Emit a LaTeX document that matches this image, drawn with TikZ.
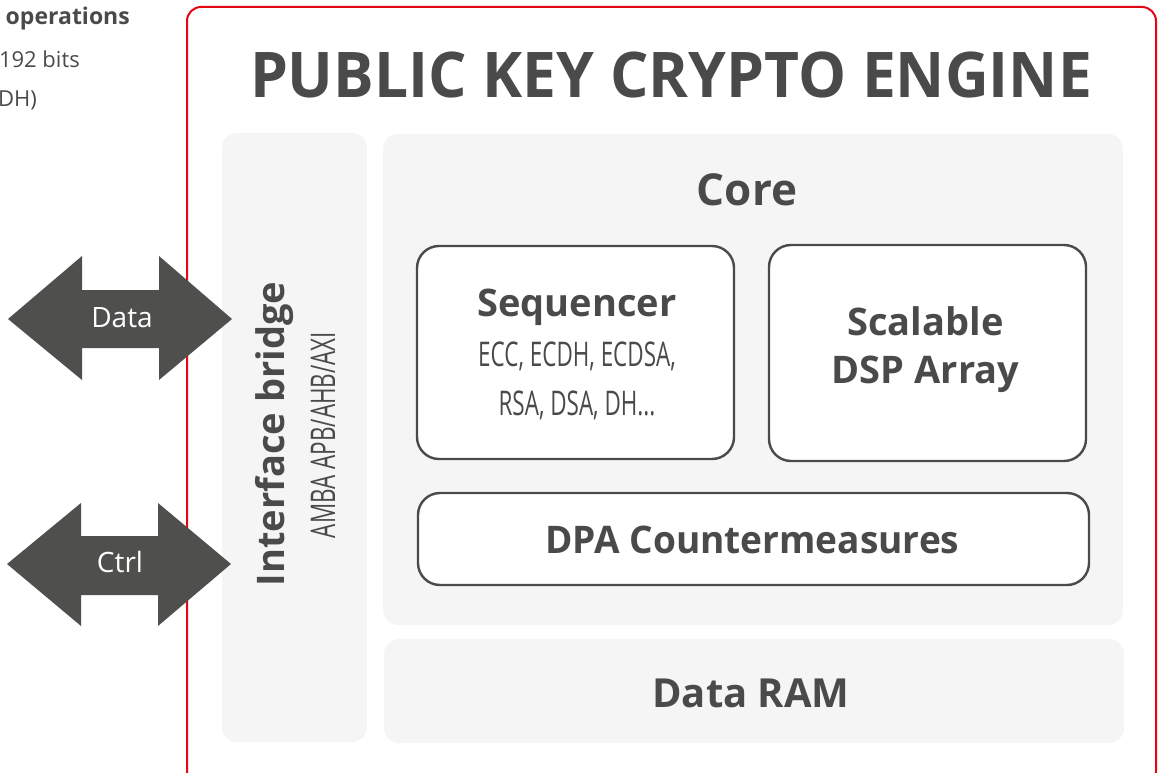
\documentclass[tikz,border=0pt]{standalone}
\usepackage{fontspec}
\usepackage{graphicx}
\setmainfont{Open Sans}
\definecolor{txt}{HTML}{4A4A4A}
\definecolor{arr}{HTML}{4F4F4E}
\definecolor{panelc}{HTML}{F5F5F5}
\definecolor{redc}{HTML}{E30613}
\newcommand{\fsz}[1]{\fontsize{#1}{#1}\selectfont}
\newcommand{\cnd}[1]{\scalebox{0.66}[1]{#1}}
\begin{document}
\begin{tikzpicture}[x=1pt,y=-1pt,
  panel/.style={fill=panelc, draw=none, rounded corners=15pt, inner sep=0pt},
  blockbox/.style={fill=white, draw=txt, line width=2.4pt, rounded corners=22pt, inner sep=0pt},
  lbl/.style={text=txt, inner sep=0pt, anchor=base},
  arrtxt/.style={text=white, inner sep=0pt, anchor=base, font=\fsz{28}}]
\useasboundingbox (0,0) rectangle (1162,773);
\clip (0,0) rectangle (1162,773);
% left cropped text
\node[lbl, anchor=base east, font=\bfseries\fsz{23}] (t1) at (130,25) {operations};
\node[lbl, anchor=base east, font=\fsz{22}] (t2) at (80,68) {192 bits};
\node[lbl, anchor=base east, font=\fsz{22}] (t3) at (37,107) {DH)};
% red frame
\draw[redc, line width=2pt, rounded corners=14pt] (187,7) rectangle (1156,785);
\node[lbl, font=\bfseries\fsz{63}] (title) at (671,98) {\scalebox{0.96}[1]{PUBLIC KEY CRYPTO ENGINE}};
% panels
\node[panel, minimum width=145pt, minimum height=609pt] (bridge) at (294.5,437.5) {};
\node[panel, minimum width=740pt, minimum height=491pt] (core) at (753,379.5) {};
\node[panel, minimum width=740pt, minimum height=104pt] (ram) at (754,691) {};
% inner boxes
\node[blockbox, minimum width=317pt, minimum height=213pt] (seq) at (575.5,352.5) {};
\node[blockbox, minimum width=317pt, minimum height=216pt] (dsp) at (927.5,353) {};
\node[blockbox, minimum width=671pt, minimum height=92pt] (dpa) at (753.5,539) {};
% texts
\node[lbl, font=\bfseries\fsz{44}] (coretxt) at (747,205) {Core};
\node[lbl, font=\bfseries\fsz{38}] (seqtxt) at (577,316) {Sequencer};
\node[lbl, font=\fsz{34}] (seq1) at (577,366) {\cnd{ECC, ECDH, ECDSA,}};
\node[lbl, font=\fsz{34}] (seq2) at (577,415) {\cnd{RSA, DSA, DH...}};
\node[lbl, font=\bfseries\fsz{38}] (dsp1) at (925.5,335) {Scalable};
\node[lbl, font=\bfseries\fsz{38}] (dsp2) at (925.5,383) {DSP Array};
\node[lbl, font=\bfseries\fsz{38}] (dpatxt) at (752.5,553) {\scalebox{0.975}[1]{DPA Countermeasures}};
\node[lbl, font=\bfseries\fsz{40}] (ramtxt) at (751,707) {Data RAM};
\node[lbl, rotate=90, font=\bfseries\fsz{38}] (bridgetxt) at (284,434) {Interface bridge};
\node[lbl, rotate=90, font=\fsz{34}] (ambatxt) at (335,435) {\cnd{AMBA APB/AHB/AXI}};
% double arrows
\fill[arr] (8,319) -- (82,256) -- (82,290) -- (159,290) -- (159,256) -- (232,319)
  -- (159,380) -- (159,348) -- (82,348) -- (82,380) -- cycle;
\fill[arr] (7,564) -- (81,503) -- (81,536) -- (158,536) -- (158,503) -- (231,564)
  -- (158,626) -- (158,595) -- (81,595) -- (81,626) -- cycle;
\node[arrtxt] (datatxt) at (122,327) {Data};
\node[arrtxt] (ctrltxt) at (120,572) {Ctrl};
\end{tikzpicture}
\end{document}
